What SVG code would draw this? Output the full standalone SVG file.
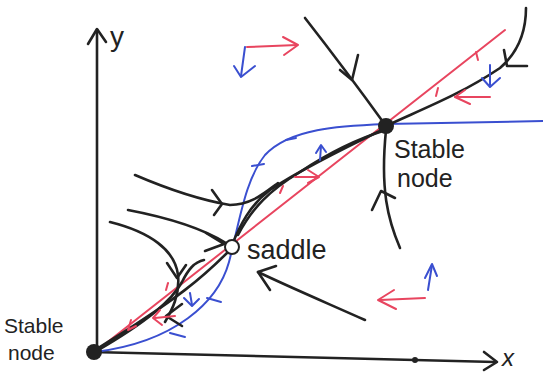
<svg xmlns="http://www.w3.org/2000/svg" width="543" height="374" viewBox="0 0 543 374">
<style>
.k{fill:none;stroke:#222;stroke-width:2.6;stroke-linecap:round;stroke-linejoin:round}
.r{fill:none;stroke:#e8455f;stroke-width:2;stroke-linecap:round;stroke-linejoin:round}
.b{fill:none;stroke:#3a4fd0;stroke-width:2;stroke-linecap:round;stroke-linejoin:round}
.t{font-family:"Liberation Sans",sans-serif;fill:#222}
</style>
<rect width="543" height="374" fill="#fff"/>
<g id="axes">
<path class="k" d="M97,350 L97,30"/>
<path class="k" d="M88,44 L97,29 L106,42"/>
<path class="k" d="M92,352 L495,362"/>
<path class="k" d="M484,352 L497,362 L484,370"/>
<circle cx="415" cy="360" r="3" fill="#222"/>
<text class="t" x="110" y="46" font-size="28">y</text>
<text class="t" x="502" y="366" font-size="24" font-style="italic" font-family="Liberation Serif,serif">x</text>
</g>
<g id="nullclines">
<path class="r" d="M100,348 L505,30"/>
<path class="b" d="M95,352 C175,342 218,302 229,262 C240,220 245,180 265,155 C290,128 340,126 386,124 L543,121"/>
</g>
<g id="connectors">
<path class="k" d="M232,245 C240,225 250,205 270,190 C300,170 340,150 386,128"/>
<path class="k" d="M238,235 C252,208 270,190 300,172 C330,152 360,138 386,130"/>
<path class="k" d="M135,175 C170,190 200,200 230,205 C250,205 262,195 278,183"/>
<path class="k" d="M212,190 L222,204 L214,215"/>
<path class="k" d="M128,210 C170,218 205,230 226,243"/>
<path class="k" d="M206,233 L224,244 L205,251"/>
<path class="k" d="M110,222 C150,232 175,250 178,275 C180,295 172,310 165,322"/>
<path class="k" d="M167,263 L177,278 L186,265"/>
<path class="k" d="M228,252 C205,275 180,298 95,350"/>
<path class="k" d="M204,260 C194,262 188,270 182,282 C172,300 150,320 95,352"/>
<path class="k" d="M182,304 L166,316 L182,326"/>
<path class="k" d="M365,320 C320,300 285,285 258,272"/>
<path class="k" d="M276,266 L258,272 L270,290"/>
<path class="k" d="M305,18 C330,50 360,90 386,126"/>
<path class="k" d="M358,55 L352,80 L340,70"/>
<path class="k" d="M526,8 C526,35 515,55 500,68 C460,95 420,110 386,126"/>
<path class="k" d="M504,50 L507,66 L527,66"/>
<path class="k" d="M400,248 C388,220 380,190 386,130"/>
<path class="k" d="M372,210 L381,191 L395,198"/>
</g>
<g id="vectors">
<path class="r" d="M247,47 L297,45"/>
<path class="r" d="M283,37 L298,45 L284,55"/>
<path class="b" d="M245,47 L241,76"/>
<path class="b" d="M234,66 L241,77 L255,66"/>
<path class="r" d="M425,298 L380,300"/>
<path class="r" d="M394,290 L378,300 L396,309"/>
<path class="b" d="M428,290 L432,265"/>
<path class="b" d="M425,278 L432,264 L437,276"/>
<path class="r" d="M455,97 L490,97"/>
<path class="r" d="M465,90 L455,97 L470,104"/>
<path class="b" d="M490,65 L490,85"/>
<path class="b" d="M482,78 L490,87 L500,78"/>
<path class="b" d="M320,160 L321,146"/>
<path class="b" d="M316,153 L321,145 L326,152"/>
<path class="r" d="M295,177 L318,177"/>
<path class="r" d="M308,170 L319,177 L308,183"/>
<path class="b" d="M190,293 L192,305"/>
<path class="b" d="M184,298 L192,306 L199,299"/>
<path class="r" d="M155,318 L175,316"/>
<path class="r" d="M160,310 L153,318 L162,325"/>
<path class="r" d="M131,320 L128,330 L136,326"/>
<path class="r" d="M168,283 L166,290"/>
<path class="r" d="M283,186 L280,193"/>
<path class="r" d="M438,88 L436,96"/>
<path class="r" d="M476,52 L478,60"/>
<path class="b" d="M170,333 L185,337"/>
<path class="b" d="M207,298 L221,302"/>
<path class="b" d="M252,166 L264,164"/>
<path class="b" d="M286,140 L296,138"/>
</g>
<g id="node-origin">
<circle cx="94" cy="352" r="8" fill="#222"/>
<text class="t" x="4" y="333" font-size="21">Stable</text>
<text class="t" x="8" y="360" font-size="21">node</text>
</g>
<g id="node-saddle">
<circle cx="232" cy="247" r="7" fill="#fff" stroke="#222" stroke-width="2"/>
<text class="t" x="247" y="259" font-size="27">saddle</text>
</g>
<g id="node-top">
<circle cx="386" cy="126" r="8" fill="#222"/>
<text class="t" x="394" y="158" font-size="25">Stable</text>
<text class="t" x="397" y="187" font-size="25">node</text>
</g>
</svg>
